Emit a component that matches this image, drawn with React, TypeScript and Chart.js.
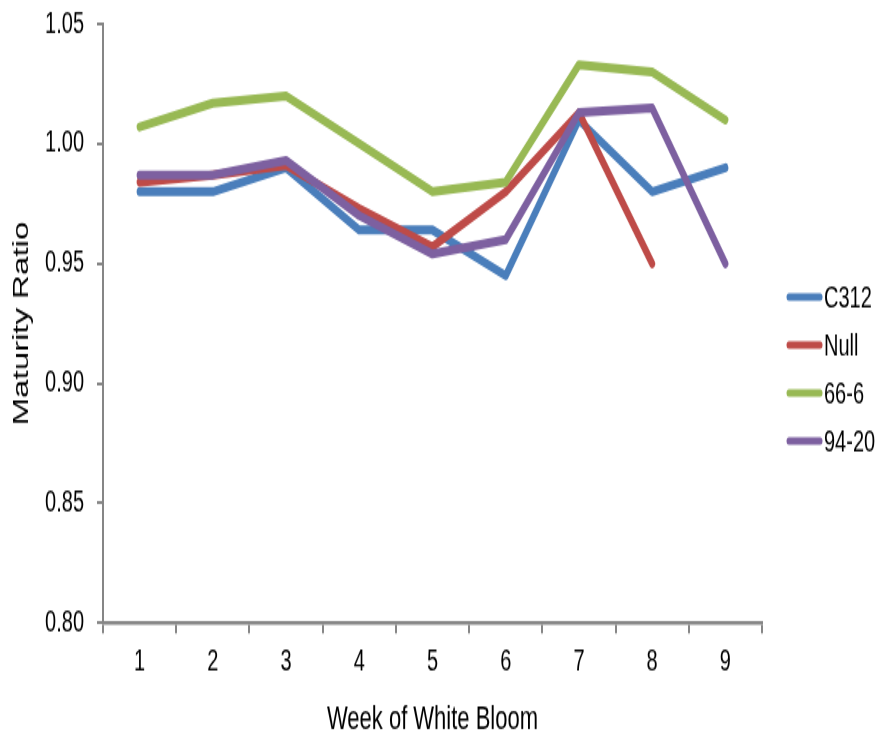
import React, { useEffect, useRef } from "react";
import { Chart, registerables } from "chart.js";

Chart.register(...registerables);

const weeks = ["1", "2", "3", "4", "5", "6", "7", "8", "9"];
const c312 = [0.98, 0.98, 0.99, 0.964, 0.964, 0.945, 1.01, 0.98, 0.99];
const nullLine = [0.984, 0.987, 0.991, 0.973, 0.957, 0.98, 1.013, 0.95, null];
const line666 = [1.007, 1.017, 1.02, 1.0, 0.98, 0.984, 1.033, 1.03, 1.01];
const line9420 = [0.987, 0.987, 0.993, 0.97, 0.954, 0.96, 1.013, 1.015, 0.95];
const seriesNames = ["C312", "Null", "66-6", "94-20"];
const seriesColors = ["#4A7EBB", "#BE4B48", "#98B954", "#7D60A0"];
const yMin = 0.8;
const yMax = 1.05;
const yStep = 0.05;

const W = 883;
const H = 738;
const S = 1.5; // vertical stretch of the original picture
const IH = Math.round(H / S);
const TOP = 16;

const legendPlugin = {
  id: "sideLegend",
  afterDraw(chart: any) {
    const ctx = chart.ctx;
    const area = chart.chartArea;
    const x0 = area.right + 25;
    const y0 = TOP + 182;
    const gap = 32;
    ctx.save();
    chart.data.datasets.forEach((ds: any, i: number) => {
      const y = y0 + i * gap;
      ctx.strokeStyle = ds.borderColor;
      ctx.lineWidth = 5;
      ctx.lineCap = "round";
      ctx.beginPath();
      ctx.moveTo(x0 + 2, y);
      ctx.lineTo(x0 + 33, y);
      ctx.stroke();
      ctx.fillStyle = "#000";
      ctx.font = "20px 'Liberation Sans', Arial, sans-serif";
      ctx.textBaseline = "middle";
      ctx.textAlign = "left";
      ctx.fillText(ds.label, x0 + 37, y + 1);
    });
    ctx.restore();
  },
};

export default function App() {
  const ref = useRef<HTMLCanvasElement | null>(null);
  useEffect(() => {
    if (!ref.current) return;
    const series = [c312, nullLine, line666, line9420];
    const chart = new Chart(ref.current, {
      type: "line",
      data: {
        labels: weeks,
        datasets: series.map((d, i) => ({
          label: seriesNames[i],
          data: d,
          borderColor: seriesColors[i],
          backgroundColor: seriesColors[i],
          borderWidth: 6,
          pointRadius: 0,
          tension: 0,
          borderCapStyle: "round" as const,
          borderJoinStyle: "round" as const,
          spanGaps: false,
          order: 4 - i,
        })),
      },
      options: {
        responsive: false,
        animation: false,
        devicePixelRatio: 1,
        layout: { padding: { top: TOP, right: 121, bottom: 0, left: 0 } },
        plugins: { legend: { display: false }, tooltip: { enabled: false } },
        scales: {
          x: {
            type: "category",
            offset: true,
            grid: {
              offset: true,
              drawOnChartArea: false,
              drawTicks: true,
              tickLength: 7,
              color: "#868686",
              lineWidth: 2,
            },
            border: { display: true, color: "#868686", width: 2.5 },
            ticks: {
              color: "#000",
              padding: 7,
              font: { family: "'Liberation Sans', Arial, sans-serif", size: 20 },
            },
            title: {
              display: true,
              text: "Week of White Bloom",
              color: "#000",
              font: { family: "'Liberation Sans', Arial, sans-serif", size: 22, lineHeight: 1.0 },
              padding: { top: 0, bottom: 1 },
            },
            afterFit: (scale: any) => {
              scale.height = IH - TOP - (623 - 24) / S;
              scale.paddingLeft = 0;
              scale.paddingRight = 0;
            },
          },
          y: {
            min: yMin,
            max: yMax,
            grid: {
              drawOnChartArea: false,
              drawTicks: true,
              tickLength: 6,
              color: "#868686",
              lineWidth: 2,
            },
            border: { display: true, color: "#868686", width: 2 },
            ticks: {
              stepSize: yStep,
              color: "#000",
              padding: 13,
              font: { family: "'Liberation Sans', Arial, sans-serif", size: 20 },
              callback: (v: any) => Number(v).toFixed(2),
            },
            title: {
              display: true,
              text: "Maturity Ratio",
              color: "#000",
              font: { family: "'Liberation Sans', Arial, sans-serif", size: 22 },
              padding: { top: 9, bottom: 0 },
            },
            afterFit: (scale: any) => {
              scale.width = 103;
              scale.paddingTop = 0;
              scale.paddingBottom = 0;
            },
          },
        },
      },
      plugins: [legendPlugin],
    });
    return () => chart.destroy();
  }, []);
  return (
    <div style={{ position: "fixed", left: 0, top: 0, width: W, height: H, background: "#fff" }}>
      <canvas
        ref={ref}
        width={W}
        height={IH}
        style={{ width: `${W}px`, height: `${H}px`, display: "block" }}
      />
    </div>
  );
}
